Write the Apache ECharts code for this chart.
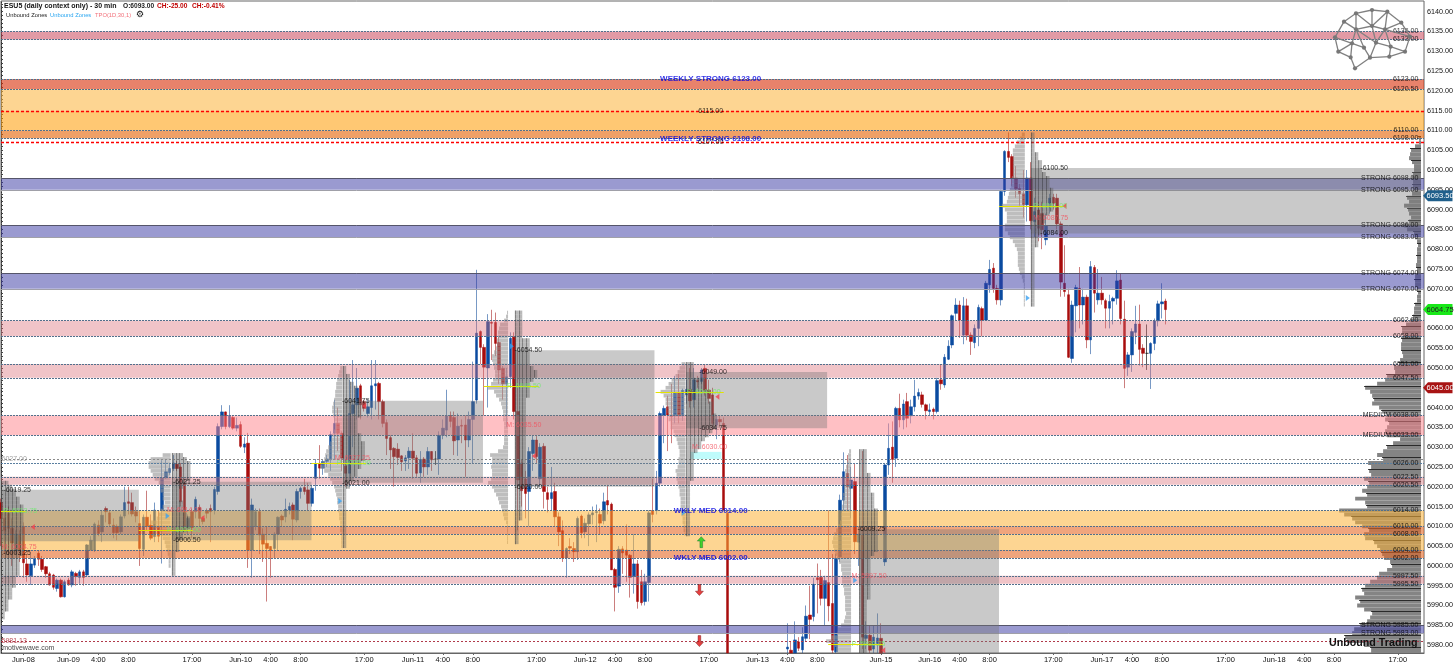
<!DOCTYPE html>
<html><head><meta charset="utf-8">
<script src="https://cdn.jsdelivr.net/npm/echarts@6/dist/echarts.min.js"></script>
<style>html,body{margin:0;padding:0;background:#fff}#c{width:1456px;height:665px}</style>
</head><body><div id="c"></div>
<script>
// ---- candles: [open, close, low, high], one row per 30-minute slot
const sessJun08=[[6016,6012,6005,6017],[6012,6009,6003,6014],[6013.3,6009.5,6003,6015],[6009.5,6005.8,6000,6012],[6004,6008,6003,6009],[6008,6004,6001,6009],[6010,6000.8,5997,6011],[6000.5,5997.7,5996,6003],[5997.5,6000.5,5995.2,6003],[6000.2,6001.9,5999.5,6002.5],[6003.2,6001.7,6000,6004],[6001.7,5999.1,5998.5,6002.5],[5999.8,5998,5997,6000],[5998,5995.2,5995,5998.5],[5997.7,5994.6,5994,5998],[5994.3,5996.4,5993.5,5996.8],[5996.4,5992.2,5992,5996.8],[5992.2,5996,5992,5996.5]];
const sessJun09=[[5996.4,5995.2,5995,5997],[5995.2,5998.5,5994.6,5999],[5998.1,5997.3,5995,5998.5],[5997.1,5998.5,5995.5,5999],[5998.5,5997.1,5995,5999],[5997.7,6005.3,5997.2,6005.5],[6004,6006.5,6004,6007.5],[6004,6010.6,6003.5,6011],[6010.3,6008.2,6007.5,6011.5],[6008.6,6012.8,6006,6014],[6014.5,6013.7,6011,6015],[6013.4,6010.6,6010,6014],[6010.3,6008.4,6007,6012],[6010,6008.4,6006.5,6010.5],[6008.6,6012.4,6008,6013],[6012.6,6016,6012,6020],[6016.2,6015.8,6013,6020],[6016,6013.1,6012.5,6018.5],[6013.7,6012.6,6011,6015],[6010.7,6004.4,6000,6014],[6004.2,6012.3,6002.5,6013],[6012.3,6010,6009,6019],[6010.3,6007,6006.5,6013],[6007.4,6014.1,6006,6016],[6010,6007.5,6006,6014],[6014,6022.2,6000.6,6026.7],[6022.2,6023.8,6022,6027],[6023.6,6024.6,6023,6026],[6024.6,6026,6024,6028],[6025.7,6024.6,6024,6026.5],[6025,6016.2,6015,6026],[6020.9,6010,6009,6022],[6009.5,6012,6008,6013],[6013.7,6009.7,6007,6014.5],[6013.7,6016.8,6012,6017.5],[6014.8,6012,6010,6015.5],[6012,6011.2,6010.5,6012.5],[6014,6013.3,6012,6014.5],[6014.5,6013.7,6006,6015.5],[6014.1,6019.3,6013,6020],[6018.8,6035.2,6018,6036],[6035.2,6038.9,6034.5,6040.6],[6038.9,6035.2,6034.5,6039],[6035.2,6038,6034.8,6040.6],[6037.5,6034.8,6034.4,6038],[6034.8,6035.5,6034,6037.5]];
const sessJun10=[[6035.7,6030.2,6029.8,6036.5],[6030,6030.8,6028.5,6032.5],[6031,6004,5999.5,6033.6],[6004,6015.4,5997,6017],[6010,6013.7,6009,6014.5],[6013.7,6007.8,6003,6014.5],[6008,6005.5,6001,6009.5],[6005.7,6004.4,5991,6010],[6004.9,6004,5997,6005],[6004.4,6008,6002,6008.5],[6008,6012.3,6004,6012.5],[6012.6,6011.6,6010,6013],[6012.4,6014.3,6011,6017],[6014.1,6015,6013,6016],[6015.4,6011.8,6006.5,6016],[6011.6,6018.8,6011,6019.5],[6018.8,6019.6,6017,6020],[6019.8,6018.8,6018,6022],[6019.2,6015.8,6014,6021],[6015.8,6019.6,6015,6020.5],[6022.1,6025.9,6019,6027],[6025.9,6024.7,6022,6030.5],[6024.7,6026.4,6023,6027],[6026.4,6027,6025,6028],[6026.8,6033.2,6024,6034],[6033.5,6036,6027,6042],[6036,6033.5,6029,6040],[6033.5,6027.2,6024,6034],[6025.2,6023.4,6020,6027],[6023.4,6038.5,6020,6047],[6038.5,6040.7,6030,6052],[6040.7,6044.9,6037,6050],[6045.5,6040.7,6037,6046],[6041.5,6039.8,6039,6042],[6038.5,6040.2,6037.5,6042],[6040,6045.5,6037,6052],[6045.5,6046,6039.5,6052],[6046.1,6041.5,6037,6046.5],[6041.5,6036,6035,6042],[6036.2,6032.2,6028,6037],[6032.4,6029.3,6024.5,6033],[6029.7,6027.6,6020,6030],[6029.5,6027.4,6025.5,6031],[6027.8,6026.3,6024,6028],[6026.5,6027.3,6024,6028],[6027.3,6029,6024.5,6030]];
const sessJun11=[[6029,6027.2,6022,6033.5],[6027.3,6023.4,6022.5,6028],[6023.5,6026.9,6021,6029],[6027,6025,6022.5,6027.5],[6025,6028.9,6023,6030],[6028.9,6026.8,6024,6029],[6027,6027,6025.5,6029],[6027,6033,6023,6034],[6033,6034.8,6032,6037],[6034.3,6037.9,6032.5,6044.5],[6038,6036.5,6035,6039],[6037.5,6031.6,6028,6039],[6031.8,6035.3,6027.8,6038.5],[6035.5,6035.3,6031,6037],[6035.6,6031.8,6022.5,6038],[6031.8,6037,6030,6039],[6037,6041.5,6026,6051.6],[6041.9,6058.8,6041,6074.8],[6059.2,6055.2,6051,6059.5],[6055.2,6050.2,6038,6056],[6050,6061.7,6040,6063.6],[6061.5,6061.3,6052,6064.7],[6061.5,6056.2,6053,6064],[6056.4,6049.5,6046,6058],[6049.9,6046,6042,6050.5],[6046,6047.8,6035,6050],[6047.8,6057.5,6045,6059],[6057.8,6039,6037,6059],[6039,6021.7,6009,6054],[6026,6019,6015,6027],[6022,6018.3,6012,6024],[6018.8,6028.9,6010,6030],[6028.4,6031.8,6024,6033],[6031.8,6027.6,6026,6033],[6022,6030,6020,6031],[6030.2,6018.8,6014.5,6031],[6018.5,6016.8,6013.5,6020],[6017,6018.5,6014,6025],[6018.8,6012.4,6010,6021],[6012.4,6008.6,6005,6013.5],[6008.9,6002,6001,6011.5],[6002,6004.4,5997,6004.7],[6004.9,6004.5,6003,6007],[6004.4,6003.6,6001,6006],[6003.6,6012,6001.5,6012.5],[6012.6,6008.4,6007,6013]];
const sessJun12=[[6008.6,6010.8,6007,6012],[6010.6,6012.9,6005,6013.5],[6012.9,6013.4,6010.5,6015],[6013.5,6013.7,6006,6015.5],[6013,6010.8,6008,6014.5],[6011.4,6016.2,6010.5,6018.5],[6016.5,6015.4,6013,6020.5],[6015.6,5999,5999,6016],[5999.1,5994.6,5988.5,5999.5],[5994.9,6004.2,5993.2,6005],[6004.3,6003.3,5998,6005],[6004,6002.7,5996,6010.5],[6002.7,5997.1,5992,6003],[5997.3,6000.5,5993,6008],[6000.5,5991,5989.2,6001.5],[5996,5990.7,5990,5999],[5991,5996,5990,5998],[5995.8,6013.4,5991,6014],[6014,6013,6011,6022],[6014,6020.9,6013,6024],[6020.9,6038.5,6020,6039],[6038.1,6039.8,6031,6040.5],[6040.2,6038.1,6029,6043],[6038,6037.7,6031,6046],[6037.9,6043.6,6036,6048],[6043.6,6037.9,6036,6048.5],[6037.9,6044.4,6036.6,6044.8],[6043.2,6044.6,6041,6047],[6044.6,6041.7,6040,6050],[6042,6047,6040,6050],[6046.8,6046.5,6045,6048],[6046.6,6049.5,6046,6050],[6049.9,6044.4,6043,6051],[6044.4,6042.3,6041,6047],[6043.2,6036,6034.5,6045],[6035.6,6037,6032,6038],[6037,6036.4,6035,6038],[6036,6014.1,6014,6037.5],[6013.3,5978,5978,6014],null,null,null,null,null,null,null];
const sessJun13=[null,null,null,null,null,null,null,null,[5979,5979.5,5978,5985.5],[5978.7,5978,5978,5981],[5978,5981.3,5978,5986],[5980.8,5979.2,5978.5,5982],[5978.8,5982.1,5978,5984.5],[5981.7,5987.3,5981,5990],[5987.6,5986.5,5981.5,5995],[5987.2,5995.4,5986,5997],[5997,5996.5,5988,6000.6],[5997.1,5991.8,5990,5999],[5991.8,5996.3,5985,5997.5],[5995.8,5989.9,5986,6014],[5990.5,5978.7,5978,6003],[5978.3,6001.9,5978,6003],[6002.3,6016.6,6001,6018],[6016.6,6023.8,6014,6028.7],[6023.4,6020,6014,6028],[6019.6,6021.7,6012,6025],[6021.3,6006.1,6003,6026],[6006,6008,6000,6010],[6007.8,5982,5979,6029],[5981.7,5982.5,5979,5986],[5982.5,5978.7,5978,5985],[5979,5982,5978,5985],[5980.4,5981.8,5978,5988],[5981.7,5978,5978,5985.5]];
const sessJun15=[[6001,6025.5,6000,6026],[6025.5,6029.7,6023,6036],[6030,6026.9,6021,6036.5],[6027.2,6039.8,6025,6040.2],[6039.8,6036.9,6035,6043.5],[6036.9,6040.9,6034.5,6042],[6041.5,6037.3,6035,6043.7],[6037.9,6040.2,6036,6042],[6040.2,6042.9,6039,6047],[6042.9,6043.8,6042,6044.8],[6043.2,6040.8,6040,6044],[6040.7,6039.2,6037,6041]];
const sessJun16=[[6039,6039.4,6038,6041],[6039.6,6039,6037,6040],[6039,6046.8,6038.5,6047.5],[6047,6046,6044.5,6051],[6045.7,6052.7,6045,6053.5],[6052.2,6055.5,6052,6057],[6055.8,6063.2,6055,6063.5],[6063.8,6065.9,6062,6067.6],[6065.9,6062.1,6057.6,6067],[6058.3,6065.7,6056,6067.9],[6065.7,6058.3,6057,6067.5],[6058.3,6056.7,6053.3,6059],[6056.4,6060,6055,6061],[6060,6065.3,6055.5,6066],[6065,6062.1,6058,6065.5],[6062.1,6071.4,6062,6072],[6071,6074.9,6069,6077.3],[6075.2,6070.1,6069,6076.5],[6070.1,6067.2,6066,6071],[6067.2,6094.6,6065.8,6095],[6094.6,6104.7,6093.5,6105],[6104.7,6103.2,6102,6109.5],[6103.4,6098,6096,6104],[6098,6095.2,6093,6101],[6095.4,6094,6091,6096.5],[6094,6091.2,6088,6100],[6091.2,6098,6087,6100],[6098,6087.2,6085,6102],[6087,6089.5,6083,6093],[6089.9,6085.3,6082,6092],[6089,6084.9,6080,6092],[6082.4,6086,6081,6089],[6091.6,6092.9,6089,6094],[6093.1,6091.6,6090,6094],[6092.9,6086.4,6085,6094],[6086.4,6071.7,6068,6087],[6071.4,6069.3,6068,6081],[6068.5,6052.7,6052.5,6070],[6052.4,6065.9,6051.3,6067],[6065.7,6070.3,6059,6071],[6070.1,6065.9,6060,6075.5],[6065.9,6067.9,6061,6070],[6067.9,6057.1,6055,6068.5],[6057.1,6075.6,6053.5,6077],[6075.4,6068.9,6064,6076],[6067.2,6068.9,6066,6075]];
const sessJun17=[[6068.9,6067.2,6066,6073],[6067,6065.1,6060,6067.5],[6065.1,6066.8,6060,6068.5],[6066.9,6067.6,6061,6068],[6067.6,6072,6066,6074.7],[6072.2,6062.5,6061,6073.8],[6062.3,6049.9,6044.9,6067],[6050.2,6053.3,6048,6054],[6053.3,6059.2,6049,6060],[6059,6061.1,6056,6065.7],[6061.1,6054.7,6050.6,6066],[6055,6053.7,6050.2,6056],[6053.7,6053.7,6049.5,6061],[6053.7,6056.2,6044.7,6056.5],[6056.2,6061.9,6054.5,6062.5],[6061.9,6066.2,6060.5,6067],[6066.2,6066.7,6062.5,6071.4],[6066.9,6064.75,6061,6067.5]];

// ---- time axis
const slotCount=381;
const tickSlots=[6,18,26,34,51,64,72,80,97,110,118,126,143,156,164,172,189,202,210,218,235,248,256,264,281,294,302,310,327,340,348,356,373];
const tickTexts=['Jun-08','Jun-09','4:00','8:00','17:00','Jun-10','4:00','8:00','17:00','Jun-11','4:00','8:00','17:00','Jun-12','4:00','8:00','17:00','Jun-13','4:00','8:00','Jun-15','Jun-16','4:00','8:00','17:00','Jun-17','4:00','8:00','17:00','Jun-18','4:00','8:00','17:00'];

// ---- horizontal zones
const zoneHi=[6135,6123,6120.5,6115,6110,6098,6086,6074,6062,6051,6038,6022.5,6014,6010,6008,6004,5997.5,5985];
const zoneLo=[6133,6120.5,6115,6110,6108,6095,6083,6070,6058,6047.5,6033,6020.5,6010,6008,6004,6002,5995.5,5983];
const zoneKind=['rose','red','orange','deep','amber','blue','blue','blue','pink','pink','medium','pink','orange','peach','orange','peach','pink','blue'];
const levelPrices=[6115,6107,6027,6026,5981.13];
const levelKind=['redDash','redDash','greyDash','blueDash','maroonDash'];

// ---- price labels at the right edge of the zones
const zoneLabelPrices=[6135,6133,6123,6120.5,6110,6108,6098,6095,6086,6083,6074,6070,6062,6058,6051,6047.5,6038,6033,6026,6022.5,6020.5,6014,6010,6008,6004,6002,5997.5,5995.5,5985,5983];
const zoneLabelTexts=['6135.00','6133.00','6123.00','6120.50','6110.00','6108.00','STRONG 6098.00','STRONG 6095.00','STRONG 6086.00','STRONG 6083.00','STRONG 6074.00','STRONG 6070.00','6062.00','6058.00','6051.00','6047.50','MEDIUM 6038.00','MEDIUM 6033.00','6026.00','6022.50','6020.50','6014.00','6010.00','6008.00','6004.00','6002.00','5997.50','5995.50','STRONG 5985.00','STRONG 5983.00'];

// ---- value-area boxes per TPO session: start slot, end slot, high, low
const boxStart=[0,45.6,91.4,137.2,183,229.2,275];
const boxEnd=[36.8,82.9,128.7,174.5,220.6,266.5,379.2];
const boxHigh=[6019.25,6021.25,6041.75,6054.5,6049,6009.25,6100.5];
const boxLow=[6006.25,6006.5,6021,6020,6034.75,5978,6084];

// ---- session notes
const noteSlots=[0.5,0.5,0,0.5,45.8,45.8,44.2,44.2,90.9,90.9,89,89.5,137,137,134.8,135,186.3,186.3,184.4,183,228.6,227,227,277.4,277.4,275.5,275.5];
const notePrices=[6019.25,6003.25,6004.75,6013.75,6021.25,6006.5,6014,6009,6041.75,6021,6027.25,6026,6054.5,6020,6035.5,6045.5,6049,6034.75,6030,6044,6009.25,5997.5,5980.25,6100.5,6084,6087.75,6091];
const noteTexts=['-6019.25','-6003.25','M: 6004.75','P: 6013.75','-6021.25','-6006.50','M: 6014.00','P: 6009.00','-6041.75','-6021.00','M: 6027.25','P: 6026.00','-6054.50','-6020.00','M: 6035.50','P: 6045.50','-6049.00','-6034.75','M: 6030.00','P: 6044.00','-6009.25','M: 5997.50','P: 5980.25','-6100.50','-6084.00','M: 6087.75','P: 6091.00'];

// ---- POC lines: from slot, to slot, price
const pocFrom=[0,36.8,82.9,128.9,174.8,220.9,266.5];
const pocTo=[6.5,51.2,97.5,143.6,193,235.6,284];
const pocPrice=[6013.75,6009,6026,6045.5,6044,5980.25,6091];

// ---- markers
const sellSlots=[8.5,53.8,97,142.3,191.3,284,235.6];
const sellPrices=[6009.8,6012.1,6040.4,6027.75,6042.7,6090.9,5978.7];
const buySlots=[44.5,90.6,136.4,182.3,228.1,274.2];
const buyPrices=[6012.6,6016.4,6055.5,6013.4,5996.4,6067.7];
const arrowSlots=[187,186.5,186.5];
const arrowPrices=[6006,5993.9,5981];

// ---- per-session TPO blocks (rows 1 point apart, from the top price downward)
const tpoTop=[6021,6028,6050,6064,6051,6029,6109];
const tpoBase=[0,45.6,91.2,137.2,183,229.2,275];
const tpo0=[2,3,4,4,5,5,6,6,6,6,6,6,6,6,6,6,6,6,6,5,5,5,5,5,4,4,4,3,3,3,2,2,2,1,1];
const tpo1=[3,4,5,5,5,5,5,4,3,2,2,2,3,3,3,4,5,5,5,4,3,3,2,2,2,1,1,1,1,1,1];
const tpo2=[1,1,2,2,3,4,4,4,5,5,5,5,5,4,4,4,4,5,5,6,6,6,6,6,5,5,4,4,3,2,2,1,1,1,1,1,1,1,1,1,1,1,1,1,1,1];
const tpo3=[2,2,2,2,2,2,2,4,4,4,4,4,4,4,5,6,6,5,4,4,4,4,3,3,3,3,3,3,3,3,3,3,3,3,3,3,3,3,3,3,3,3,3,3,3,2,2,2,2,2,2,2,2,1,1,1,1,1,1];
const tpo4=[2,2,2,2,5,5,5,6,6,6,7,7,7,8,8,8,8,7,6,5,4,4,3,2,2,2,2,2,2,2,1,1,1,1,1,1,1,1,1,1,1,1,1,1];
const tpo5=[2,2,2,2,2,2,3,3,3,3,3,4,4,4,4,5,5,5,5,5,5,5,5,5,5,5,4,3,3,3,3,3,3,3,3,3,3,3,2,2,2,2,2,2,2,2,2,2,2,2,2,2];
const tpo6=[1,1,1,1,1,2,2,3,3,3,4,5,5,5,6,6,6,6,6,6,5,4,4,3,3,3,2,2,2,1,1,1,1,1,1,1,1,1,1,1,1,1,1,1];
const tpoRows=[tpo0,tpo1,tpo2,tpo3,tpo4,tpo5,tpo6];

// ---- per-session volume profile (drawn to the left of its base)
const volTop=[6028,6050,6064,6051,6029,6109];
const volBase=[45.3,91.1,135.4,182.8,227,273.4];
const vol1=[8,20,22,22,20,18,16,12,10,10,8,8,6,8,10,12,14,20,16,12,10,8,6,5,4,3,2,2,2];
const vol2=[2,3,4,5,6,6,7,7,8,9,10,10,9,8,7,7,8,10,11,12,14,16,17,18,20,22,18,14,12,10,8,7,6,5,5,4,4,3,3,2,2,2,1,1,1,1];
const vol3=[1,2,4,8,9,10,10,11,11,12,14,16,16,15,14,13,13,15,17,20,14,12,9,7,6,5,5,5,4,4,4,4,4,4,5,10,18,16,16,17,16,16,17,20,16,14,12,10,9,7,6,5,4,2,1,1,1,1,1];
const vol4=[4,6,8,10,14,17,20,25,22,20,20,18,18,17,17,15,15,12,11,9,8,7,6,6,7,7,8,10,9,9,8,7,6,6,5,5,5,4,4,3,3,2,2,1];
const vol5=[2,3,3,4,5,6,6,7,7,7,7,8,8,8,9,9,10,10,11,13,15,17,18,19,18,17,16,14,12,10,10,9,9,9,8,7,7,6,6,6,6,5,6,7,10,13,14,20,25,16,15,15];
const vol6=[3,5,8,10,12,12,12,12,12,12,12,13,13,14,15,16,17,18,23,20,18,18,18,20,20,17,15,12,10,8,7,7,7,7,6,5,3,2,1,1,1,1,1,1];
const volRows=[vol1,vol2,vol3,vol4,vol5,vol6];

// ---- composite profile at the right edge, 1-point rows from the top price
const compTop=6108;
const compRows=[2,2,6,10,11,12,9,7,7,8,9,8,8,7,9,14,12,17,13,12,10,12,17,14,7,6,4,3,4,4,4,4,5,4,4,6,6,6,4,3,4,4,6,7,7,8,11,15,19,19,17,19,20,20,19,18,21,22,27,26,34,36,44,56,51,49,47,49,42,39,34,36,32,34,36,34,21,28,34,38,44,38,53,50,52,50,57,52,54,59,54,66,56,54,82,77,69,66,59,52,57,56,47,44,41,39,37,31,29,34,42,44,51,56,59,57,66,61,64,57,49,51,54,61,67,69,76,74,57,50,50];

// ---- live price tags
const tagPrices=[6093.5,6064.75,6045];
const tagKind=['blue','green','red'];

// ---- logo network
const logoNodes=[[405,112],[432,65],[468,40],[516,30],[562,35],[604,68],[630,110],[615,155],[568,170],[510,173],[465,205],[415,155],[452,172],[456,130],[468,88],[516,78],[555,88],[528,128],[572,140],[492,143]];
const logoEdges=[[0,1],[1,2],[2,3],[3,4],[4,5],[5,6],[6,7],[7,8],[8,9],[9,10],[10,12],[12,11],[11,0],[0,13],[1,14],[2,14],[2,15],[3,15],[4,15],[4,16],[5,16],[14,15],[15,16],[14,13],[14,19],[14,17],[13,19],[13,12],[13,11],[19,9],[17,9],[17,15],[17,16],[17,18],[16,18],[18,7],[18,8],[16,6]];

// ---------- styles and drawing
const FONT='"Liberation Sans",Arial,sans-serif';
const candles=[].concat(sessJun08,sessJun09,sessJun10,sessJun11,sessJun12,sessJun13,sessJun15,sessJun16,sessJun17);
const ohlc=candles.map(r=>r||['-','-','-','-']);
const bodies=candles.map(r=>r?[r[0],r[1],Math.min(r[0],r[1]),Math.max(r[0],r[1])]:['-','-','-','-']);
const zoneFill={rose:'rgba(197,53,75,.5)',red:'rgba(217,47,8,.6)',orange:'rgba(251,179,57,.55)',deep:'rgba(255,155,0,.55)',amber:'rgba(230,97,0,.6)',peach:'rgba(230,105,38,.6)',blue:'rgba(53,53,161,.5)',pink:'rgba(217,107,117,.4)',medium:'rgba(255,129,137,.5)'};
const levelStyle={redDash:{stroke:'#f00',lineWidth:1.4,lineDash:[3,2]},greyDash:{stroke:'#8a8a8a',lineWidth:1,lineDash:[2,2]},blueDash:{stroke:'#5a7fa0',lineWidth:1,lineDash:[2,1]},maroonDash:{stroke:'#b03a4a',lineWidth:1,lineDash:[2,2]}};
const tagStyle={blue:{fill:'#1f5f8b',text:'#fff'},green:{fill:'#18e818',text:'#222'},red:{fill:'#a81414',text:'#fff'}};

const rectOf=(api,x0,hi,x1,lo)=>{const a=api.coord([x0,hi]),b=api.coord([x1,lo]);return {x:a[0],y:a[1],width:b[0]-a[0],height:b[1]-a[1]};};
const hline=(api,x0,x1,p,style)=>{const a=api.coord([x0,p]),b=api.coord([x1,p]);return {type:'line',shape:{x1:a[0],y1:Math.round(a[1])+.5,x2:b[0],y2:Math.round(a[1])+.5},style};};

const zoneData=zoneHi.map((h,i)=>[0,380,h,zoneLo[i]]);
const boxData=boxStart.map((s,i)=>[s,boxEnd[i],boxHigh[i],boxLow[i]]);
const levelData=levelPrices.map(p=>[0,380,p]);
const pocData=pocFrom.map((s,i)=>[s,pocTo[i],pocPrice[i]]);
const tpoData=[];tpoRows.forEach((r,s)=>r.forEach((c,k)=>tpoData.push([tpoBase[s],tpoTop[s]-k,c])));
const volData=[];volRows.forEach((r,s)=>r.forEach((c,k)=>volData.push([volBase[s],volTop[s]-k,c])));
const compData=compRows.map((w,k)=>[w,compTop-k]);
const tagData=tagPrices.map(p=>[380,p]);

const textItem=(x,y,text,label)=>({value:[x,y],name:text,label});
const noteColor=t=>t[0]==='M'?'#f2535f':t[0]==='P'?'#6fe86f':'#000';
const notes=noteTexts.map((t,i)=>textItem(noteSlots[i],notePrices[i],t,{color:noteColor(t)}));
const blueBold={color:'#0000e0',fontWeight:'bold',fontSize:8};
const centreTexts=[textItem(189.5,6123,'WEEKLY STRONG 6123.00',blueBold),textItem(189.5,6108,'WEEKLY STRONG 6108.00',blueBold),textItem(189.5,6115,'6115.00',{color:'#000'}),textItem(189.5,6107,'6107.00',{color:'#000'}),textItem(189.5,6014,'WKLY MED 6014.00',blueBold),textItem(189.5,6002,'WKLY MED 6002.00',blueBold)];
const leftTexts=[textItem(0,6027,'6027.00',{color:'#8a8a8a'}),textItem(0,5981.13,'5981.13',{color:'#a82030'}),textItem(0.2,5979.2,'motivewave.com',{color:'#111',fontSize:7})];
const scatterBase={type:'scatter',xAxisIndex:1,yAxisIndex:0,symbolSize:1,itemStyle:{color:'transparent'},silent:true,z:10,animation:false};

const option={
 animation:false,backgroundColor:'#fff',
 grid:{left:1,right:29,top:1,bottom:12,show:true,borderColor:'#666',borderWidth:1,backgroundColor:'#fff'},
 xAxis:[
  {type:'category',boundaryGap:false,data:Array.from({length:slotCount},(_,i)=>{const k=tickSlots.indexOf(i);return k<0?'':tickTexts[k];}),
   axisLine:{lineStyle:{color:'#666'}},axisTick:{length:2,lineStyle:{color:'#666'},interval:i=>tickSlots.includes(i)},
   axisLabel:{interval:i=>tickSlots.includes(i),color:'#111',fontSize:7.5,fontFamily:FONT,margin:3,showMinLabel:true,showMaxLabel:true},splitLine:{show:false}},
  {type:'value',min:0,max:380,show:false},
  {type:'value',min:0,max:1426,inverse:true,show:false}
 ],
 yAxis:[{type:'value',position:'right',min:5978,max:6142.7,interval:1,scale:true,
   axisLine:{show:true,lineStyle:{color:'#333',type:'dotted'}},axisTick:{show:true,length:2,lineStyle:{color:'#444'}},
   axisLabel:{color:'#111',fontSize:7.2,fontFamily:FONT,margin:3,showMinLabel:false,showMaxLabel:false,formatter:v=>Number.isInteger(v)&&v%5===0?v.toFixed(2):''},splitLine:{show:false}}],
 graphic:[
  {type:'text',x:4,y:3,z:30,style:{text:'ESU5 (daily context only) - 30 min',font:'bold 7px '+FONT,fill:'#111'}},
  {type:'text',x:123,y:3,z:30,style:{text:'O:6093.00',font:'bold 6.6px '+FONT,fill:'#222'}},
  {type:'text',x:157,y:3,z:30,style:{text:'CH:-25.00',font:'bold 6.6px '+FONT,fill:'#c00000'}},
  {type:'text',x:192,y:3,z:30,style:{text:'CH:-0.41%',font:'bold 6.6px '+FONT,fill:'#c00000'}},
  {type:'text',x:6,y:12.5,z:30,style:{text:'Unbound Zones',font:'5.8px '+FONT,fill:'#222'}},
  {type:'text',x:50,y:12.5,z:30,style:{text:'Unbound Zones',font:'5.8px '+FONT,fill:'#2aa6f0'}},
  {type:'text',x:95,y:12.5,z:30,style:{text:'TPO(1D,30,1)',font:'5.8px '+FONT,fill:'#f2707a'}},
  {type:'text',x:136,y:10,z:30,style:{text:'\u2699',font:'bold 9px "DejaVu Sans"',fill:'#111'}},
  {type:'text',x:1329,y:638,z:30,style:{text:'Unbound Trading',font:'bold 10.7px '+FONT,fill:'#111'}},
  ...logoEdges.map(e=>({type:'line',z:29,silent:true,shape:{x1:1200+logoNodes[e[0]][0]/3,y1:logoNodes[e[0]][1]/3,x2:1200+logoNodes[e[1]][0]/3,y2:logoNodes[e[1]][1]/3},style:{stroke:'#808080',lineWidth:1.3}})),
  ...logoNodes.map(n=>({type:'circle',z:29,silent:true,shape:{cx:1200+n[0]/3,cy:n[1]/3,r:2.1},style:{fill:'#777'}}))
 ],
 series:[
  {type:'custom',name:'composite',xAxisIndex:2,yAxisIndex:0,z:1,silent:true,clip:true,encode:{x:0,y:1},data:compData,
   renderItem:(p,api)=>{const w=api.value(0),pr=api.value(1);const a=api.coord([w+3,pr+.5]),b=api.coord([3,pr-.5]);
    const kids=[{type:'rect',shape:{x:a[0],y:a[1],width:b[0]-a[0],height:b[1]-a[1]},style:{fill:'#848484'}}];
    if(pr%3===0)kids.push({type:'line',shape:{x1:a[0]-1,y1:Math.round(a[1])+.5,x2:b[0],y2:Math.round(a[1])+.5},style:{stroke:'#2a2a2a',lineWidth:1}});
    return {type:'group',children:kids};}},
  {type:'candlestick',name:'wicks',xAxisIndex:0,yAxisIndex:0,z:2,silent:true,barWidth:1,data:ohlc,
   itemStyle:{color:'rgba(10,70,150,.55)',color0:'rgba(160,20,20,.55)',borderColor:'rgba(10,70,150,.55)',borderColor0:'rgba(160,20,20,.55)',borderColorDoji:'rgba(20,20,20,.7)',borderWidth:1}},
  {type:'candlestick',name:'bodies',xAxisIndex:0,yAxisIndex:0,z:3,silent:true,barWidth:3,data:bodies,
   itemStyle:{color:'#0a4ba0',color0:'#a80c0c',borderColor:'#0a4ba0',borderColor0:'#a80c0c',borderColorDoji:'#111',borderWidth:0.5}},
  {type:'custom',name:'vol',xAxisIndex:1,yAxisIndex:0,z:4,silent:true,clip:true,encode:{x:0,y:1},data:volData,
   renderItem:(p,api)=>{const b=api.value(0),pr=api.value(1),w=api.value(2);const r=rectOf(api,b-w/3.75,pr+.47,b,pr-.47);return {type:'rect',shape:r,style:{fill:'rgba(150,150,150,.62)'}};}},
  {type:'custom',name:'zones',xAxisIndex:1,yAxisIndex:0,z:5,silent:true,clip:true,encode:{x:[0,1],y:[2,3]},data:zoneData,
   renderItem:(p,api)=>{const i=p.dataIndex,k=zoneKind[i],x0=api.value(0),x1=api.value(1),hi=api.value(2),lo=api.value(3);
    const isBlue=k==='blue';
    const top=isBlue?{stroke:'#55556a',lineWidth:1}:{stroke:'#51708c',lineWidth:1,lineDash:[2,1]};
    const bot=isBlue?{stroke:'#a0a0a8',lineWidth:1}:{stroke:'#51708c',lineWidth:1,lineDash:[2,1]};
    const kids=[{type:'rect',shape:rectOf(api,x0,hi,x1,lo),style:{fill:zoneFill[k]}}];
    if(k!=='deep')kids.push(hline(api,x0,x1,hi,top));
    if(k!=='orange'||lo<6100)kids.push(hline(api,x0,x1,lo,bot));
    return {type:'group',children:kids};}},
  {type:'custom',name:'levels',xAxisIndex:1,yAxisIndex:0,z:6,silent:true,clip:true,encode:{x:[0,1],y:2},data:levelData,
   renderItem:(p,api)=>hline(api,api.value(0),api.value(1),api.value(2),levelStyle[levelKind[p.dataIndex]])},
  {type:'custom',name:'valueAreas',xAxisIndex:1,yAxisIndex:0,z:6,silent:true,clip:true,encode:{x:[0,1],y:[2,3]},data:boxData,
   renderItem:(p,api)=>({type:'rect',shape:rectOf(api,api.value(0),api.value(2),api.value(1),api.value(3)),style:{fill:'rgba(120,120,120,.4)'}})},
  {type:'custom',name:'midBand',xAxisIndex:1,yAxisIndex:0,z:6,silent:true,clip:true,encode:{x:[0,1],y:[2,3]},data:[[184.1,192.4,6028.8,6027]],
   renderItem:(p,api)=>({type:'rect',shape:rectOf(api,api.value(0),api.value(2),api.value(1),api.value(3)),style:{fill:'rgba(170,250,250,.75)'}})},
  {type:'custom',name:'tpo',xAxisIndex:1,yAxisIndex:0,z:7,silent:true,clip:true,encode:{x:0,y:1},data:tpoData,
   renderItem:(p,api)=>{const b=api.value(0),pr=api.value(1),c=api.value(2),kids=[];
    for(let j=0;j<c;j++){const r=rectOf(api,b+j,pr+.5,b+j+1,pr-.5);
     kids.push({type:'rect',shape:r,style:{fill:'rgba(100,100,100,.45)'}});
     kids.push({type:'rect',shape:{x:Math.round(r.x),y:r.y,width:1,height:r.height},style:{fill:'rgba(40,40,40,.4)'}});}
    return {type:'group',children:kids};}},
  {type:'custom',name:'poc',xAxisIndex:1,yAxisIndex:0,z:8,silent:true,clip:true,encode:{x:[0,1],y:2},data:pocData,
   renderItem:(p,api)=>hline(api,api.value(0),api.value(1),api.value(2),{stroke:'#e3e300',lineWidth:1})},
  {...scatterBase,name:'sell',symbol:'triangle',symbolRotate:90,symbolSize:[6,4],z:9,itemStyle:{color:'#f2404a'},data:sellSlots.map((s,i)=>[s,sellPrices[i]])},
  {...scatterBase,name:'buy',symbol:'triangle',symbolRotate:-90,symbolSize:[6,4],z:9,itemStyle:{color:'#3aa0f0'},data:buySlots.map((s,i)=>[s,buyPrices[i]])},
  {...scatterBase,name:'arrows',symbol:'path://M3 0L6 4L4 4L4 10L2 10L2 4L0 4Z',symbolSize:[8,11],z:9,data:[
    {value:[arrowSlots[0],arrowPrices[0]],itemStyle:{color:'#12d012',borderColor:'#063',borderWidth:.5}},
    {value:[arrowSlots[1],arrowPrices[1]],symbolRotate:180,itemStyle:{color:'#e01010',borderColor:'#600',borderWidth:.5}},
    {value:[arrowSlots[2],arrowPrices[2]],symbolRotate:180,itemStyle:{color:'#e01010',borderColor:'#600',borderWidth:.5}}]},
  {...scatterBase,name:'zoneLabels',label:{show:true,position:'left',distance:0,formatter:'{b}',fontSize:7,fontFamily:FONT,color:'#000'},data:zoneLabelPrices.map((p,i)=>textItem(378.6,p,zoneLabelTexts[i]))},
  {...scatterBase,name:'notes',label:{show:true,position:'right',distance:0,formatter:'{b}',fontSize:7,fontFamily:FONT},data:notes},
  {...scatterBase,name:'centre',label:{show:true,position:'inside',formatter:'{b}',fontSize:7,fontFamily:FONT},data:centreTexts},
  {...scatterBase,name:'left',label:{show:true,position:'right',distance:0,formatter:'{b}',fontSize:7,fontFamily:FONT},data:leftTexts},
  {type:'custom',name:'tags',xAxisIndex:1,yAxisIndex:0,z:12,silent:true,clip:false,encode:{x:0,y:1},data:tagData,
   renderItem:(p,api)=>{const c=api.coord([api.value(0),api.value(1)]),st=tagStyle[tagKind[p.dataIndex]],x=c[0],y=c[1];
    return {type:'group',children:[{type:'polygon',shape:{points:[[x-1,y],[x+4,y-5.5],[x+28.5,y-5.5],[x+28.5,y+5.5],[x+4,y+5.5]]},style:{fill:st.fill}},
     {type:'text',style:{x:x+16,y:y,text:api.value(1).toFixed(2),align:'center',verticalAlign:'middle',font:'7.5px '+FONT,fill:st.text}}]};}}
 ]
};
const chart=echarts.init(document.getElementById('c'));
chart.setOption(option);
</script></body></html>
